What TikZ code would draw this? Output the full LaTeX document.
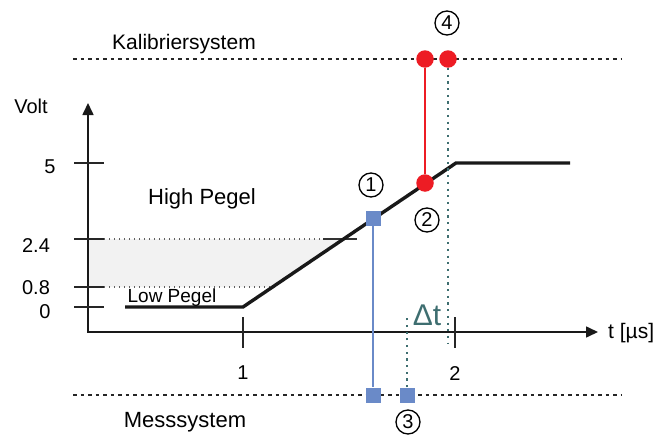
\documentclass[tikz,border=0pt]{standalone}
\usepackage{fontspec}
\setmainfont{Liberation Sans}
\usetikzlibrary{arrows.meta}
\definecolor{sigred}{HTML}{ED1C24}
\definecolor{sigblue}{HTML}{6A8AC8}
\definecolor{tealdot}{HTML}{3E6E70}
\definecolor{bandgray}{HTML}{F2F2F2}
\definecolor{gridgray}{HTML}{606060}
\newcommand{\fs}[1]{\fontsize{#1}{#1}\selectfont}
\begin{document}
\begin{tikzpicture}[x=1pt,y=-1pt,
  axisline/.style={line width=1.6pt,black!90,
    {Triangle[length=12pt,width=11pt]}-{Triangle[length=12pt,width=11pt]}},
  tickline/.style={line width=1.4pt,black!85},
  sysline/.style={line width=1.5pt,black!85,dash pattern=on 3.5pt off 4pt},
  leveldots/.style={line width=1.1pt,gridgray,dash pattern=on 1pt off 4pt},
  tealline/.style={line width=2.2pt,tealdot,dash pattern=on 2.2pt off 4.5pt},
  signal/.style={line width=3.4pt,black!90,line join=miter},
  reddot/.style={circle,fill=sigred,minimum size=17.5pt,inner sep=0pt},
  bluesq/.style={rectangle,fill=sigblue,minimum size=15pt,inner sep=0pt},
  redline/.style={line width=1.7pt,sigred},
  blueline/.style={line width=1.7pt,sigblue},
  marker/.style={circle,draw,line width=1.3pt,minimum size=24pt,inner sep=0pt,font=\fs{20}},
  lbl/.style={inner sep=0pt,anchor=base,font=\fs{20}}
]
\useasboundingbox (0,0) rectangle (659,439);

% band between the two logic thresholds
\fill[bandgray] (88,239) -- (343.6,239) -- (272.6,287) -- (88,287) -- cycle;
\draw[leveldots] (104,239) -- (323,239);
\draw[line width=1.2pt,black!80] (323,239) -- (357,239);
\draw[leveldots] (104,287) -- (272,287);

% system reference lines
\draw[sysline] (73,59) -- (622,59);
\draw[sysline] (73,395) -- (622,395);

% axes
\draw[axisline] (88,103) |- (598,332);
\foreach \yy in {163,239,287,307} \draw[tickline] (74,\yy) -- (104,\yy);
\foreach \xx in {243,455} \draw[tickline] (\xx,317) -- (\xx,348);

% signal edge
\draw[signal] (125,307) -- (243,307) -- (456,163) -- (570,163);

% measurement points
\node[reddot] (r1) at (425,59) {};
\node[reddot] (r2) at (448,59) {};
\node[reddot] (r3) at (425,183) {};
\node[bluesq] (b1) at (373,218) {};
\node[bluesq] (b2) at (373,395) {};
\node[bluesq] (b3) at (407,395) {};
\coordinate (r2end) at (448,344);
\coordinate (b3end) at (407,315);

\draw[redline] (r1) -- (r3);
\draw[blueline] (b1) -- (b2);
\draw[tealline] (r2) -- (r2end);
\draw[tealline] (b3) -- (b3end);

% labels
\node[lbl,font=\fs{21}] (kal) at (184,49) {Kalibriersystem};
\node[lbl,font=\fs{22}] (mess) at (185,427) {Messsystem};
\node[lbl,font=\fs{20}] (volt) at (31,113) {Volt};
\node[lbl,font=\fs{22}] (high) at (202,204) {High Pegel};
\node[lbl,font=\fs{19}] (low) at (172,302) {Low Pegel};
\node[lbl] (v5) at (50,173) {5};
\node[lbl] (v24) at (36,252) {2.4};
\node[lbl] (v08) at (36,294) {0.8};
\node[lbl] (v0) at (45,318) {0};
\node[lbl] (t1) at (243,379) {1};
\node[lbl] (t2) at (455,380) {2};
\node[lbl,anchor=base west,font=\fs{21}] (tunit) at (608,338) {t [µs]};
\node[lbl,font=\fs{30},text=tealdot] (dt) at (427,325) {Δt};

% numbered markers
\node[marker] (m1) at (371,185) {1};
\node[marker] (m2) at (427,220) {2};
\node[marker] (m3) at (408,422) {3};
\node[marker] (m4) at (447,23) {4};
\end{tikzpicture}
\end{document}
